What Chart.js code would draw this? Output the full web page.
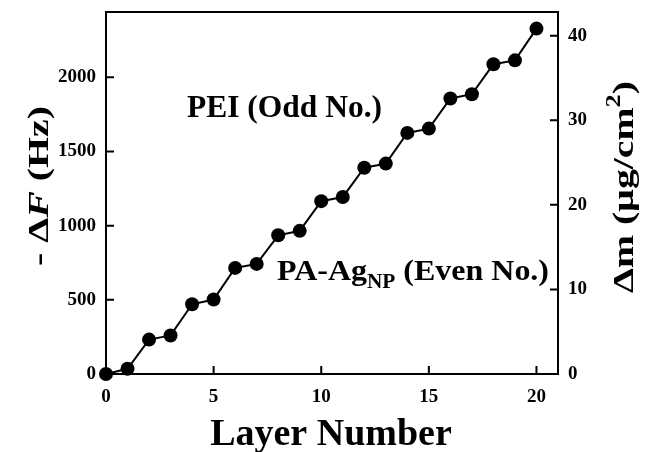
<!DOCTYPE html>
<html>
<head>
<meta charset="utf-8">
<script src="https://cdn.jsdelivr.net/npm/chart.js@4/dist/chart.umd.min.js"></script>
<style>
  html, body { margin: 0; padding: 0; background: #fff; }
  #wrap { width: 647px; height: 452px; }
</style>
</head>
<body>
<div id="wrap"><canvas id="qcmChart" width="647" height="452"></canvas></div>
<script>
// data
const layers = [0, 1, 2, 3, 4, 5, 6, 7, 8, 9, 10, 11, 12, 13, 14, 15, 16, 17, 18, 19, 20];
const freqShift = [0, 35, 232, 260, 470, 502, 715, 742, 935, 965, 1165, 1193, 1390, 1418, 1625, 1654, 1857, 1886, 2088, 2114, 2328];

// axis ticks
const layerTicks = [0, 5, 10, 15, 20];
const freqTicks = [0, 500, 1000, 1500, 2000];
const massTicks = [0, 10, 20, 30, 40];

const FREQ_MAX = 2440;
const MASS_MAX = 42.8;   // same span as FREQ_MAX (Sauerbrey)
const SERIF = '"Liberation Serif", "Times New Roman", serif';

function setTicks(list) {
  return function(scale) {
    scale.ticks = list.map(v => ({ value: v }));
  };
}

// draws text made of several styled parts, optionally stretched to a length
function drawRich(ctx, parts, x, y, angle, align, targetLen) {
  ctx.save();
  ctx.translate(x, y);
  ctx.rotate(angle);
  let total = 0;
  parts.forEach(p => {
    ctx.font = p.font;
    p.w = ctx.measureText(p.text).width;
    total += p.w;
  });
  const sx = targetLen ? targetLen / total : 1;
  ctx.scale(sx, 1);
  let cx = align === 'center' ? -total / 2 : 0;
  ctx.fillStyle = '#000';
  ctx.textBaseline = 'alphabetic';
  ctx.textAlign = 'left';
  parts.forEach(p => {
    ctx.font = p.font;
    ctx.fillText(p.text, cx, p.dy || 0);
    cx += p.w;
  });
  ctx.restore();
}

// frame + inward tick marks
const framePlugin = {
  id: 'frame',
  beforeDatasetsDraw(chart) {
    const { ctx, chartArea: a, scales } = chart;
    ctx.save();
    ctx.strokeStyle = '#000';
    ctx.lineWidth = 2;
    ctx.strokeRect(a.left, a.top, a.right - a.left, a.bottom - a.top);
    ctx.beginPath();
    const len = 8;
    layerTicks.forEach(v => {
      const px = scales.x.getPixelForValue(v);
      ctx.moveTo(px, a.bottom);
      ctx.lineTo(px, a.bottom - len);
    });
    freqTicks.forEach(v => {
      const py = scales.y.getPixelForValue(v);
      ctx.moveTo(a.left, py);
      ctx.lineTo(a.left + len, py);
    });
    massTicks.forEach(v => {
      const py = scales.y2.getPixelForValue(v);
      ctx.moveTo(a.right, py);
      ctx.lineTo(a.right - len, py);
    });
    ctx.stroke();
    ctx.restore();
  }
};

// axis titles and annotations
const textPlugin = {
  id: 'texts',
  afterDraw(chart) {
    const ctx = chart.ctx;
    const big = 'bold 30px ' + SERIF;
    const sub = 'bold 20px ' + SERIF;

    drawRich(ctx, [{ text: 'Layer Number', font: 'bold 38px ' + SERIF }],
      331, 445, 0, 'center');

    drawRich(ctx, [
      { text: '- \u0394', font: big },
      { text: 'F', font: 'italic bold 30px ' + SERIF },
      { text: ' (Hz)', font: big }
    ], 48, 186, -Math.PI / 2, 'center', 160);

    drawRich(ctx, [
      { text: '\u0394m (\u00b5g/cm', font: big },
      { text: '2', font: sub, dy: -13 },
      { text: ')', font: big }
    ], 633, 187, -Math.PI / 2, 'center', 212);

    drawRich(ctx, [{ text: 'PEI (Odd No.)', font: 'bold 31px ' + SERIF }],
      187, 117, 0, 'left', 195);

    drawRich(ctx, [
      { text: 'PA-Ag', font: big },
      { text: 'NP', font: sub, dy: 8 },
      { text: ' (Even No.)', font: big }
    ], 277, 280, 0, 'left', 272);
  }
};

const tickFont = { family: SERIF, size: 19, weight: 'bold' };
const plainLabel = v => String(v);

function fitWidth(w) {
  return function(s) {
    s.width = w;
    s.paddingTop = 0;
    s.paddingBottom = 0;
  };
}

new Chart(document.getElementById('qcmChart'), {
  type: 'line',
  data: {
    labels: layers,
    datasets: [{
      data: layers.map((l, i) => ({ x: l, y: freqShift[i] })),
      borderColor: '#000',
      borderWidth: 2,
      backgroundColor: '#000',
      pointBackgroundColor: '#000',
      pointBorderColor: '#000',
      pointRadius: 7,
      pointBorderWidth: 0,
      tension: 0,
      clip: false,
      yAxisID: 'y'
    }]
  },
  options: {
    responsive: false,
    animation: false,
    events: [],
    layout: { padding: { top: 12, left: 0, right: 0, bottom: 0 } },
    plugins: {
      legend: { display: false },
      tooltip: { enabled: false }
    },
    scales: {
      x: {
        type: 'linear',
        min: 0,
        max: 21,
        afterBuildTicks: setTicks(layerTicks),
        afterFit: s => { s.height = 78; s.paddingLeft = 0; s.paddingRight = 0; },
        grid: { display: false, drawTicks: false },
        border: { display: false },
        ticks: { color: '#000', font: tickFont, padding: 12, maxRotation: 0, callback: plainLabel }
      },
      y: {
        type: 'linear',
        position: 'left',
        min: 0,
        max: FREQ_MAX,
        afterBuildTicks: setTicks(freqTicks),
        afterFit: fitWidth(106),
        grid: { display: false, drawTicks: false },
        border: { display: false },
        ticks: { color: '#000', font: tickFont, padding: 10, callback: plainLabel }
      },
      y2: {
        type: 'linear',
        position: 'right',
        min: 0,
        max: MASS_MAX,
        afterBuildTicks: setTicks(massTicks),
        afterFit: fitWidth(89),
        grid: { display: false, drawTicks: false },
        border: { display: false },
        ticks: { color: '#000', font: tickFont, padding: 10, callback: plainLabel }
      }
    }
  },
  plugins: [framePlugin, textPlugin]
});
</script>
</body>
</html>
